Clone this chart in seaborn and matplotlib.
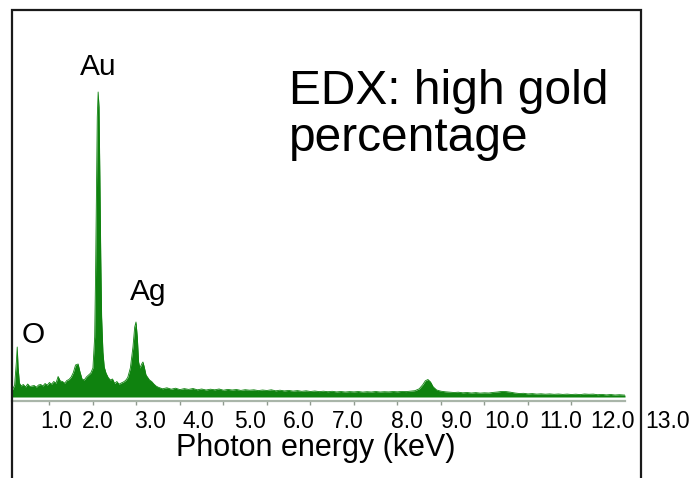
import matplotlib
matplotlib.use("Agg")
import matplotlib.pyplot as plt
import seaborn as sns
import pandas as pd
from matplotlib.patches import Rectangle

# ---------------- data ----------------
energy_kev = [
    0.14, 0.20, 0.24, 0.26, 0.28, 0.31, 0.35, 0.40, 0.45, 0.50, 0.55, 0.60,
    0.65, 0.70, 0.75, 0.80, 0.85, 0.90, 0.95, 1.00, 1.05, 1.10, 1.15, 1.20,
    1.25, 1.30, 1.35, 1.40, 1.45, 1.50, 1.55, 1.60, 1.66, 1.70, 1.75, 1.80,
    1.85, 1.90, 1.95, 2.00, 2.04, 2.06, 2.08, 2.10, 2.12, 2.14, 2.16, 2.18,
    2.20, 2.23, 2.26, 2.30, 2.35, 2.40, 2.45, 2.50, 2.55, 2.60, 2.65, 2.70,
    2.75, 2.80, 2.86, 2.92, 2.96, 2.99, 3.02, 3.05, 3.08, 3.12, 3.15, 3.18,
    3.22, 3.26, 3.30, 3.35, 3.40, 3.45, 3.50, 3.60, 3.70, 3.80, 3.90, 4.00,
    4.10, 4.20, 4.30, 4.40, 4.50, 4.60, 4.70, 4.80, 4.90, 5.00, 5.10, 5.20,
    5.30, 5.40, 5.50, 5.60, 5.70, 5.80, 5.90, 6.00, 6.10, 6.20, 6.30, 6.40,
    6.50, 6.60, 6.70, 6.80, 6.90, 7.00, 7.10, 7.20, 7.30, 7.40, 7.50, 7.60,
    7.70, 7.80, 7.90, 8.00, 8.10, 8.20, 8.30, 8.40, 8.50, 8.60, 8.70, 8.80,
    8.90, 9.00, 9.10, 9.20, 9.30, 9.40, 9.50, 9.58, 9.64, 9.70, 9.76, 9.82,
    9.90, 10.00, 10.10, 10.20, 10.30, 10.40, 10.50, 10.60, 10.70, 10.80,
    10.90, 11.00, 11.10, 11.20, 11.30, 11.40, 11.50, 11.60, 11.70, 11.80,
    11.90, 12.00, 12.10, 12.20, 12.30, 12.40, 12.50, 12.60, 12.70, 12.80,
    12.90, 13.00, 13.10, 13.20, 13.30, 13.40, 13.50, 13.60, 13.70, 13.80,
    13.90, 14.00, 14.10, 14.23,
]
counts = [
    60, 120, 350, 500, 300, 140, 110, 125, 100, 130, 105, 110,
    115, 98, 120, 125, 110, 135, 118, 145, 128, 155, 138, 205,
    160, 155, 138, 165, 175, 200, 245, 320, 330, 255, 180, 170,
    200, 220, 240, 290, 600, 1200, 2000, 2800, 3050, 2900, 2200, 1400,
    800, 450, 300, 240, 195, 170, 180, 135, 155, 128, 140, 150,
    165, 195, 290, 500, 700, 750, 600, 350, 290, 330, 350, 300,
    220, 195, 170, 155, 130, 110, 98, 82, 92, 78, 88, 74,
    84, 76, 85, 72, 80, 70, 78, 72, 80, 68, 76, 70,
    75, 66, 73, 68, 72, 64, 70, 65, 72, 62, 68, 61,
    66, 59, 64, 57, 62, 55, 60, 54, 58, 53, 57, 51,
    55, 50, 54, 51, 55, 49, 53, 50, 55, 50, 53, 51,
    55, 52, 56, 54, 58, 63, 82, 122, 162, 175, 150, 102,
    70, 58, 52, 48, 45, 48, 42, 45, 40, 44,
    39, 42, 40, 46, 50, 56, 54, 48, 40, 35,
    37, 31, 34, 29, 32, 28, 31, 27, 30, 26,
    29, 25, 28, 24, 30, 27, 29, 23, 26, 21,
    25, 20, 23, 19,
]
tick_values = [1, 2, 3, 4, 5, 6, 7, 8, 9, 10, 11, 12, 13]
tick_labels = ["1.0", "2.0", "3.0", "4.0", "5.0", "6.0", "7.0", "8.0",
               "9.0", "10.0", "11.0", "12.0", "13.0"]
# horizontal pixel centres of the (hand-placed) tick label texts
tick_label_px = [56, 98, 150, 198, 250, 299, 348, 407, 457, 507, 561, 612, 668]

peak_names = ["O", "Au", "Ag"]
peak_label_px = [(33, 343), (98, 75), (148, 300)]

df = pd.DataFrame({"energy": energy_kev, "counts": counts})

# ---------------- figure ----------------
W, H = 693, 478
sns.set_theme(style="white")
plt.rcParams["font.family"] = ["Liberation Sans", "DejaVu Sans"]

fig = plt.figure(figsize=(W / 100, H / 100), dpi=100)
fig.patch.set_facecolor("white")

def fx(px):
    return px / W

def fy(py):
    return 1 - py / H

# axes: spine at y=401 px, top at 10 px, x from 12 to 625 px
ax = fig.add_axes([fx(12), fy(401), fx(625) - fx(12), fy(10) - fy(401)])
ax.set_facecolor("none")

green = "#0f820f"
ax.fill_between(df["energy"], df["counts"], 0, color=green, linewidth=0)
sns.lineplot(data=df, x="energy", y="counts", ax=ax, color=green,
             linewidth=0.6, sort=True, legend=False)

ax.set_xlim(0.14, 14.23)
ax.set_ylim(-40, 3870)
ax.set_xlabel("")
ax.set_ylabel("")
for s in ["top", "left", "right"]:
    ax.spines[s].set_visible(False)
ax.spines["bottom"].set_color("#a9b5a9")
ax.spines["bottom"].set_linewidth(1.6)
ax.set_yticks([])
ax.set_xticks(tick_values)
ax.set_xticklabels([])
ax.tick_params(axis="x", direction="out", length=3, width=1, color="#8f9a8f",
               bottom=True)

# tick label texts (placed as in the reference)
for lab, px in zip(tick_labels, tick_label_px):
    fig.text(fx(px), fy(428), lab, ha="center", va="baseline",
             fontsize=16.5, color="black")

fig.text(fx(316), fy(456), "Photon energy (keV)", ha="center",
         va="baseline", fontsize=22, color="black")

for name, (px, py) in zip(peak_names, peak_label_px):
    fig.text(fx(px), fy(py), name, ha="center", va="baseline",
             fontsize=21.5, color="black")

fig.text(fx(289), fy(104), "EDX: high gold", ha="left", va="baseline",
         fontsize=34.5, color="black")
fig.text(fx(289), fy(151), "percentage", ha="left", va="baseline",
         fontsize=34.5, color="black")

# outer frame (open at the bottom)
frame = Rectangle((fx(12), -0.1), fx(641) - fx(12), fy(10) + 0.1,
                  transform=fig.transFigure, fill=False,
                  edgecolor="#1a1a1a", linewidth=1.6, zorder=5)
fig.patches.append(frame)

fig.savefig("out.png", dpi=100, facecolor="white")
